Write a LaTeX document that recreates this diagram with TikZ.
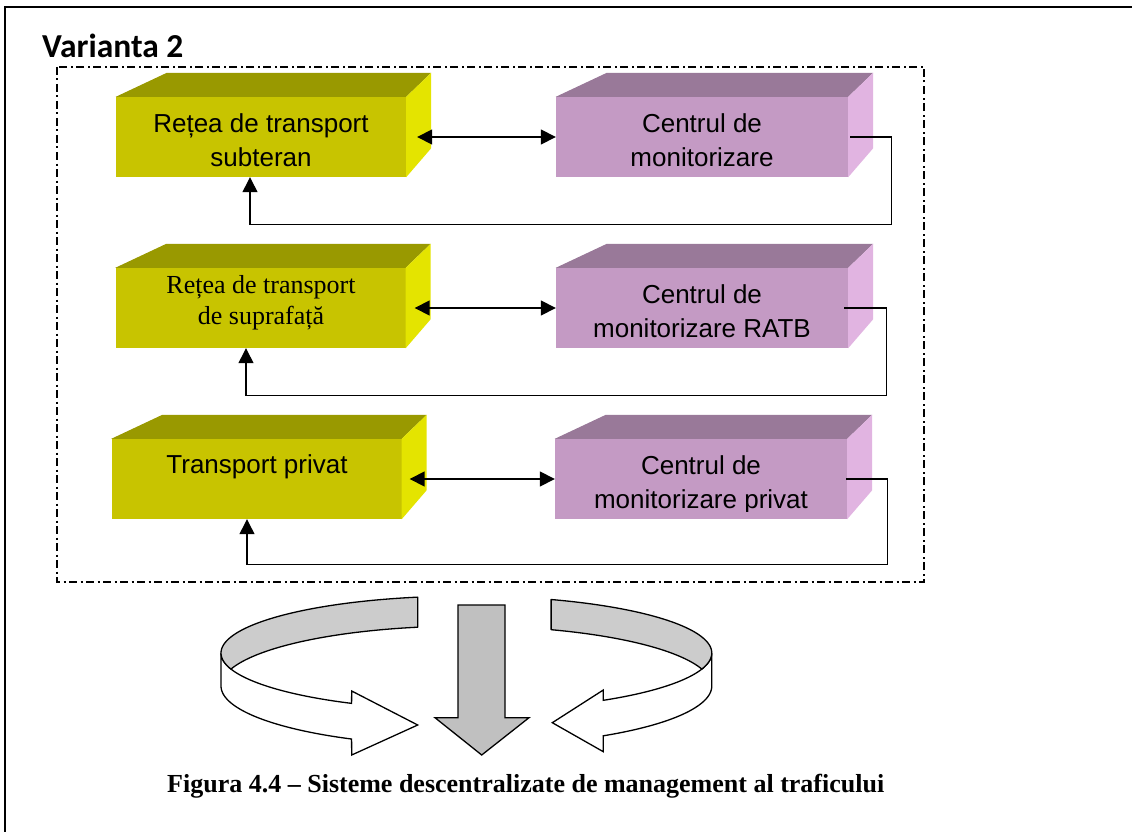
\documentclass[tikz,border=0pt]{standalone}
\usepackage{fontspec}
\setmainfont{Liberation Serif}
\newfontfamily\arialf{Liberation Sans}
\newfontfamily\calibf{Carlito}
\usetikzlibrary{arrows.meta,calc}
\definecolor{yfr}{RGB}{200,196,0}
\definecolor{ytp}{RGB}{153,153,0}
\definecolor{ysd}{RGB}{228,228,0}
\definecolor{pfr}{RGB}{196,154,196}
\definecolor{ptp}{RGB}{153,121,153}
\definecolor{psd}{RGB}{225,180,225}
\definecolor{ribgray}{RGB}{204,204,204}
\definecolor{arrgray}{RGB}{192,192,192}
\newcommand\cubefaces[3]{%
  \fill[#2] (#1.north west) -- ++(51,-24) -- ([shift={(25,-24)}]#1.north east) -- (#1.north east) -- cycle;
  \fill[#3] (#1.north east) -- ++(25,-24) -- ([shift={(25,-29)}]#1.south east) -- (#1.south east) -- cycle;}
\begin{document}
\begin{tikzpicture}[x=1pt,y=-1pt,
  face/.style={minimum height=80pt,inner sep=0pt,draw=none},
  yface/.style={face,fill=yfr,minimum width=290pt},
  pface/.style={face,fill=pfr,minimum width=292pt},
  lbl/.style={anchor=north,inner sep=0pt,align=center,font=\arialf\fontsize{26}{34}\selectfont},
  slbl/.style={anchor=north,inner sep=0pt,align=center,font=\fontsize{26}{31}\selectfont},
  dbl/.style={{Triangle[length=15pt,width=15pt]}-{Triangle[length=15pt,width=15pt]},line width=1.6pt},
  fb/.style={-{Triangle[length=15pt,width=15pt]},line width=1.3pt},
  frame/.style={line width=1.4pt,dash pattern=on 8pt off 3.5pt on 2pt off 3.5pt},
  rib/.style={draw=black,fill=ribgray,line width=1.3pt,line join=round},
  wrib/.style={draw=black,fill=white,line width=1.3pt,line join=miter},
  darrow/.style={draw=black,fill=arrgray,line width=1.3pt,line join=miter}]
\useasboundingbox (0,0) rectangle (1132,832);
\fill[white] (0,0) rectangle (1132,832);
% outer frame (top and left visible)
\draw[line width=2pt] (1132,7) -- (4.5,7) -- (4.5,832);
% title
\node[anchor=base west,inner sep=0pt,font=\calibf\bfseries\fontsize{33.5}{40}\selectfont] (title) at (42,57.3) {Varianta 2};
% dash-dot frame
\draw[frame] (57,67) rectangle (924,582);
% boxes
\node[yface] (y1) at (261,137) {};
\node[pface] (p1) at (702,137) {};
\node[yface] (y2) at (260.5,308) {};
\node[pface] (p2) at (702,308) {};
\node[yface] (y3) at (256.5,479) {};
\node[pface] (p3) at (701,479) {};
\cubefaces{y1}{ytp}{ysd}
\cubefaces{p1}{ptp}{psd}
\cubefaces{y2}{ytp}{ysd}
\cubefaces{p2}{ptp}{psd}
\cubefaces{y3}{ytp}{ysd}
\cubefaces{p3}{ptp}{psd}
% labels
\node[lbl] (ty1) at (261,108.2) {\strut Rețea de transport\\subteran};
\node[lbl] (tp1) at (702,108.2) {\strut Centrul de\\monitorizare};
\node[slbl] (ty2) at (261,271.3) {\strut Rețea de transport\\de suprafață};
\node[lbl] (tp2) at (702,279.2) {\strut Centrul de\\monitorizare RATB};
\node[lbl] (ty3) at (257,449.2) {\strut Transport privat};
\begin{scope}
\clip (550,430) rectangle (850,511);
\node[lbl] (tp3) at (701,450.2) {\strut Centrul de\\monitorizare privat};
\end{scope}
% connectors
\draw[dbl] ([xshift=11pt]y1.east) -- (p1.west);
\draw[dbl] ([xshift=9pt]y2.east) -- (p2.west);
\draw[dbl] ([xshift=8pt]y3.east) -- (p3.west);
\draw[fb] ([xshift=2pt]p1.east) -- ++(41,0) |- ($(y1.south)+(-11,47)$) -- ([xshift=-11pt]y1.south);
\draw[fb] ([xshift=-4pt]p2.east) -- ++(42,0) |- ($(y2.south)+(-14.5,47)$) -- ([xshift=-14.5pt]y2.south);
\draw[fb] ([xshift=-1pt]p3.east) -- ++(41,0) |- ($(y3.south)+(-9.5,45)$) -- ([xshift=-9.5pt]y3.south);
% circular arrows
\filldraw[wrib] plot[domain=117.9:180,samples=50] ({466.4+245.4*cos(\x)},{653+57*sin(\x)})
  -- plot[domain=180:117.9,samples=50] ({466.4+245.4*cos(\x)},{686+60*sin(\x)})
  -- (351.7,755) -- (417.7,725) -- (351.7,691) -- cycle;
\filldraw[rib] plot[domain=258.55:163.6,samples=60] ({466.4+245.4*cos(\x)},{653+57*sin(\x)})
  -- plot[domain=196.4:258.55,samples=50] ({466.4+245.4*cos(\x)},{686+60*sin(\x)}) -- cycle;
\filldraw[wrib] plot[domain=56.1:0,samples=50] ({466.4+245.4*cos(\x)},{653+57*sin(\x)})
  -- plot[domain=0:56.1,samples=50] ({466.4+245.4*cos(\x)},{686+60*sin(\x)})
  -- (603.3,751.7) -- (552.3,722.7) -- (603.3,690) -- cycle;
\filldraw[rib] plot[domain=290.2:376.4,samples=60] ({466.4+245.4*cos(\x)},{653+57*sin(\x)})
  -- plot[domain=343.6:290.2,samples=50] ({466.4+245.4*cos(\x)},{686+60*sin(\x)}) -- cycle;
\filldraw[darrow] (458,605) -- (505,605) -- (505,717.7) -- (529,717.7) -- (481.7,755) -- (435,717.7) -- (458,717.7) -- cycle;
% caption
\node[anchor=base west,inner sep=0pt,font=\bfseries\fontsize{26}{30}\selectfont] (cap) at (167,792) {Figura 4.4 – Sisteme descentralizate de management al traficului};
\end{tikzpicture}
\end{document}
